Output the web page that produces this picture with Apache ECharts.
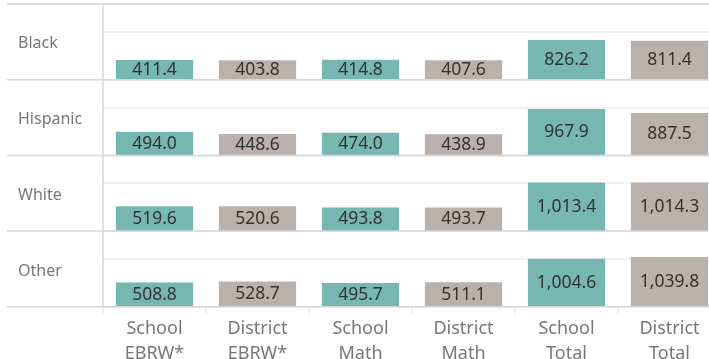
<!DOCTYPE html>
<html>
<head>
<meta charset="utf-8">
<script src="https://cdn.jsdelivr.net/npm/echarts@6/dist/echarts.min.js"></script>
<style>
  html, body { margin: 0; padding: 0; background: #fff; overflow: hidden; }
  #chart { width: 721px; height: 359px; }
</style>
</head>
<body>
<div id="chart"></div>
<script>
// Column headers (measure × school/district) and row headers (group)
const categories = ['School\nEBRW*', 'District\nEBRW*', 'School\nMath', 'District\nMath', 'School\nTotal', 'District\nTotal'];
const rowLabels = ['Black', 'Hispanic', 'White', 'Other'];

// Average scores per group, in column order
const black    = [411.4, 403.8, 414.8, 407.6, 826.2, 811.4];
const hispanic = [494.0, 448.6, 474.0, 438.9, 967.9, 887.5];
const white    = [519.6, 520.6, 493.8, 493.7, 1013.4, 1014.3];
const other    = [508.8, 528.7, 495.7, 511.1, 1004.6, 1039.8];

const rows = [black, hispanic, white, other];

const TEAL = '#76b7b2';
const TAUPE = '#bab0ac';
const FONT = '"Noto Sans", "Open Sans", sans-serif';

const plotLeft = 103;
const plotWidth = 618;
const rowTop = 4;
const rowH = 75.7;
const frameLeft = 7;
const lineColor = '#d6d6d6';

const fmt = v => v.toLocaleString('en-US', { minimumFractionDigits: 1, maximumFractionDigits: 1 });

const grids = [], xAxes = [], yAxes = [], series = [], graphics = [];

rows.forEach((vals, i) => {
  const last = i === rows.length - 1;
  grids.push({
    left: plotLeft, width: plotWidth, top: rowTop + i * rowH, height: rowH,
    containLabel: false, outerBoundsMode: 'none'
  });
  xAxes.push({
    type: 'category', gridIndex: i, data: categories,
    axisLine: { show: false },
    axisTick: last ? { show: true, length: 7, lineStyle: { color: '#ececec', width: 1.5 } } : { show: false },
    axisLabel: last ? {
      show: true, color: '#777', fontFamily: FONT, fontSize: 18, lineHeight: 25, margin: 10
    } : { show: false }
  });
  yAxes.push({
    type: 'value', gridIndex: i, min: 0, max: 1580, interval: 1000,
    axisLine: { show: false }, axisTick: { show: false }, axisLabel: { show: false },
    splitLine: { show: true, lineStyle: { color: '#f0f0f0', width: 2 } }
  });
  series.push({
    type: 'bar', xAxisIndex: i, yAxisIndex: i,
    barCategoryGap: '25%',
    data: vals.map((v, j) => ({ value: v, itemStyle: { color: j % 2 === 0 ? TEAL : TAUPE } })),
    label: {
      show: true, position: 'inside', color: '#333', fontFamily: FONT, fontSize: 17.5,
      formatter: p => fmt(p.value)
    },
    silent: true
  });
  graphics.push({
    type: 'text', left: 18, top: rowTop + i * rowH + rowH / 2 - 6,
    style: { text: rowLabels[i], fill: '#777', font: '16px ' + FONT }
  });
});

// Frame: top border, row separators and header divider
const sepY = [rowTop];
for (let i = 1; i <= rows.length; i++) sepY.push(rowTop + i * rowH);
sepY.forEach(y => {
  graphics.push({
    type: 'line', z: 10,
    shape: { x1: frameLeft, y1: y, x2: 721, y2: y },
    style: { stroke: lineColor, lineWidth: 1.5 }
  });
});
graphics.push({
  type: 'line', z: 10,
  shape: { x1: plotLeft, y1: rowTop, x2: plotLeft, y2: rowTop + rows.length * rowH },
  style: { stroke: lineColor, lineWidth: 1.5 }
});

const chart = echarts.init(document.getElementById('chart'), null, { renderer: 'canvas' });
chart.setOption({
  animation: false,
  grid: grids,
  xAxis: xAxes,
  yAxis: yAxes,
  series: series,
  graphic: graphics
});
</script>
</body>
</html>
